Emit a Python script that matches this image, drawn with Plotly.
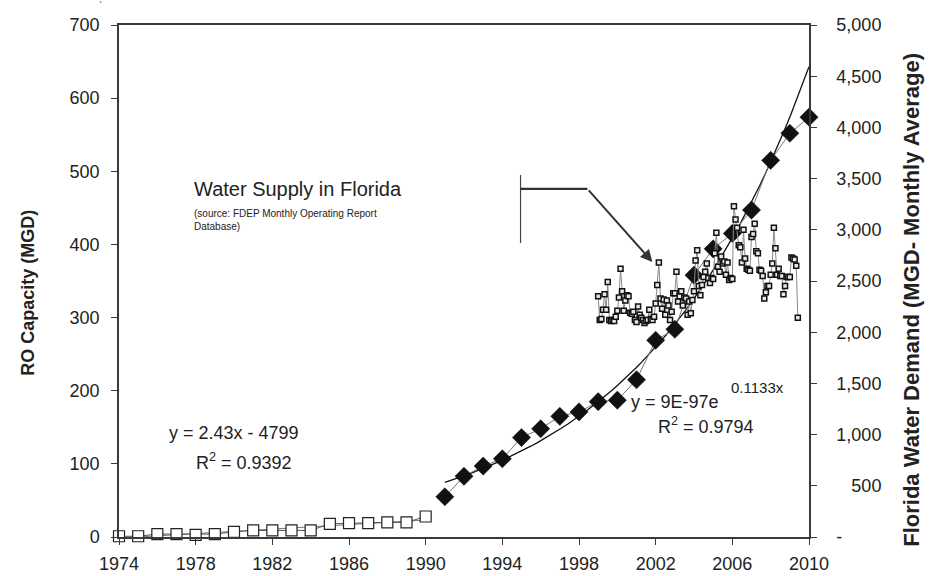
import numpy as np
import pandas as pd
import plotly.graph_objects as go

# ---------------- data ----------------
ro_years_early = list(range(1974, 1991))
ro_capacity_early = [1, 1, 4, 4, 3, 4, 7, 9, 9, 9, 9, 18, 19, 19, 20, 20, 28]

ro_years_late = list(range(1991, 2011))
ro_capacity_late = [55, 83, 97, 107, 136, 148, 165, 171, 185, 187,
                    215, 269, 284, 358, 394, 415, 447, 515, 552, 574]

demand_start = "1999-01"
demand_1999 = [2350, 2120, 2130, 2220, 2370, 2220, 2490, 2120, 2110, 2120, 2110, 2150]
demand_2000 = [2210, 2340, 2620, 2400, 2210, 2310, 2360, 2350, 2190, 2180, 2200, 2120]
demand_2001 = [2100, 2250, 2170, 2140, 2120, 2090, 2110, 2120, 2220, 2130, 2120, 2150]
demand_2002 = [2280, 2460, 2680, 2330, 2230, 2320, 2170, 2310, 2260, 2120, 2200, 2380]
demand_2003 = [2380, 2590, 2300, 2350, 2400, 2260, 2340, 2330, 2170, 2300, 2185, 2314]
demand_2004 = [2400, 2700, 2800, 2450, 2360, 2460, 2540, 2590, 2670, 2530, 2480, 2530]
demand_2005 = [2520, 2770, 2970, 2640, 2590, 2740, 2670, 2690, 2560, 2680, 2510, 2530]
demand_2006 = [2520, 3230, 3100, 3020, 2850, 2830, 2680, 3000, 2720, 2620, 2610, 2600]
demand_2007 = [2930, 2960, 3060, 2790, 2770, 2610, 2600, 2550, 2330, 2390, 2450, 2450]
demand_2008 = [2560, 2670, 3020, 2820, 2560, 2620, 2550, 2550, 2370, 2450, 2540, 2540]
demand_2009 = [2540, 2730, 2720, 2710, 2650, 2140]

x_ticks = list(range(1974, 2011, 4))
y_left_ticks = list(range(0, 701, 100))
y_right_ticks = list(range(0, 5001, 500))
y_right_labels = ["-", "\u2007\u2008500"] + [f"{v:,}" for v in y_right_ticks[2:]]

# ---------------- derived ----------------
demand = (demand_1999 + demand_2000 + demand_2001 + demand_2002 + demand_2003 +
          demand_2004 + demand_2005 + demand_2006 + demand_2007 + demand_2008 +
          demand_2009)
dates = pd.date_range(demand_start, periods=len(demand), freq="MS")
demand_x = dates.year + (dates.month - 1) / 12.0

lin = np.polyfit(ro_years_early, ro_capacity_early, 1)
lin_x = np.array([1974, 1990])
lin_y = np.polyval(lin, lin_x)

expfit = np.polyfit(ro_years_late, np.log(ro_capacity_late), 1)
exp_x = np.linspace(1991, 2010, 60)
exp_y = np.exp(np.polyval(expfit, exp_x))

FONT = "Liberation Sans, Arial, sans-serif"
AX = "#3a3a3a"

fig = go.Figure()

# monthly demand (right axis)
fig.add_trace(go.Scatter(
    x=demand_x, y=demand, yaxis="y2", mode="lines+markers",
    line=dict(color="#8a8a8a", width=1),
    marker=dict(symbol="square", size=5, color="#e8e8e8",
                line=dict(color="#111", width=1.5)),
    showlegend=False, cliponaxis=False))

# linear trend
fig.add_trace(go.Scatter(x=lin_x, y=lin_y, mode="lines",
                         line=dict(color="#777", width=1), showlegend=False))
# exponential trend
fig.add_trace(go.Scatter(x=exp_x, y=exp_y, mode="lines",
                         line=dict(color="#111", width=1.3), showlegend=False))

# RO capacity early (open squares)
fig.add_trace(go.Scatter(
    x=ro_years_early, y=ro_capacity_early, mode="lines+markers",
    line=dict(color="#555", width=1),
    marker=dict(symbol="square", size=11, color="white",
                line=dict(color="#222", width=1.2)),
    showlegend=False, cliponaxis=False))

# RO capacity late (diamonds)
fig.add_trace(go.Scatter(
    x=ro_years_late, y=ro_capacity_late, mode="lines+markers",
    line=dict(color="#777", width=1),
    marker=dict(symbol="diamond", size=14, color="#111",
                line=dict(color="#111", width=0.5)),
    showlegend=False, cliponaxis=False))

tickfont = dict(family=FONT, size=18, color="#222")

fig.update_layout(
    width=940, height=576,
    margin=dict(l=119, r=131, t=25, b=39),
    paper_bgcolor="white", plot_bgcolor="white",
    xaxis=dict(range=[1974, 2010], tickvals=x_ticks, ticks="outside",
               ticklen=6, tickcolor=AX, showline=True, linecolor=AX,
               linewidth=1.5, mirror=True, showgrid=False, zeroline=False,
               tickfont=tickfont, ticklabelstandoff=4, automargin=False),
    yaxis=dict(range=[0, 700], tickvals=y_left_ticks, ticks="outside",
               ticklen=6, tickcolor=AX, showline=True, linecolor=AX,
               linewidth=1.5, showgrid=False, zeroline=False,
               tickfont=tickfont, ticklabelstandoff=8, automargin=False),
    yaxis2=dict(range=[0, 5000], tickvals=y_right_ticks,
                ticktext=y_right_labels, overlaying="y", side="right",
                ticks="outside", ticklen=6, tickcolor=AX, showline=True,
                linecolor=AX, linewidth=1.5, showgrid=False,
                zeroline=False, tickfont=tickfont, ticklabelstandoff=16,
                automargin=False),
)

ann_font = dict(family=FONT, color="#222")
annotations = [
    dict(text="<b>RO Capacity (MGD)</b>", xref="paper", yref="paper",
         x=-0.132, y=0.477, textangle=-90, showarrow=False,
         xanchor="center", yanchor="middle",
         font=dict(size=18, **ann_font)),
    dict(text="<b>Florida Water Demand (MGD- Monthly Average)</b>",
         xref="paper", yref="paper", x=1.149, y=0.463, textangle=-90,
         xanchor="center", yanchor="middle",
         showarrow=False, font=dict(size=22, **ann_font)),
    dict(text="Water Supply in Florida", xref="x", yref="y",
         x=1977.8, y=476, xanchor="left", showarrow=False,
         font=dict(size=20, **ann_font)),
    dict(text="(source: FDEP Monthly Operating Report<br>Database)",
         xref="x", yref="y", x=1977.8, y=433, xanchor="left", align="left",
         showarrow=False, font=dict(size=10, **ann_font)),
    dict(text="y = 2.43x - 4799", xref="x", yref="y", x=1976.5, y=142,
         xanchor="left", showarrow=False, font=dict(size=18, **ann_font)),
    dict(text="R<sup>2</sup> = 0.9392", xref="x", yref="y", x=1977.9, y=103,
         xanchor="left", showarrow=False, font=dict(size=18, **ann_font)),
    dict(text="y = 9E-97e", xref="x", yref="y",
         x=2000.6, y=184, xanchor="left", showarrow=False,
         font=dict(size=18, **ann_font)),
    dict(text="0.1133x", xref="x", yref="y",
         x=2005.8, y=205, xanchor="left", showarrow=False,
         font=dict(size=15, **ann_font)),
    dict(text="R<sup>2</sup> = 0.9794", xref="x", yref="y", x=2002.0, y=152,
         xanchor="left", showarrow=False, font=dict(size=18, **ann_font)),
    dict(text="`", xref="paper", yref="paper", x=-0.032, y=1.05,
         showarrow=False, font=dict(size=10, **ann_font)),
    # arrow
    dict(x=2001.83, y=376, ax=1998.44, ay=476, xref="x", yref="y",
         axref="x", ayref="y", showarrow=True, arrowhead=2, arrowsize=1.2,
         arrowwidth=2, arrowcolor="#333", text=""),
]
fig.update_layout(annotations=annotations)

fig.add_shape(type="line", xref="x", yref="y", x0=1994.95, x1=1994.95,
              y0=402, y1=495, line=dict(color="#444", width=1.2))
fig.add_shape(type="line", xref="x", yref="y", x0=1994.95, x1=1998.44,
              y0=476, y1=476, line=dict(color="#333", width=2.2))

fig.write_html("out.html", config={"displayModeBar": False},
               post_script="document.body.style.margin='0';"
                           "document.body.style.padding='0';")
